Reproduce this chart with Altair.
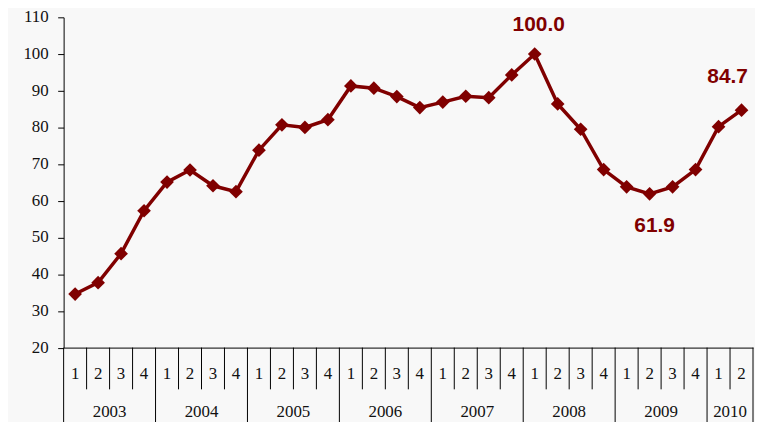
import altair as alt
import pandas as pd

# data (quarterly index, 2008Q1 = 100)
years = ["2003", "2004", "2005", "2006", "2007", "2008", "2009", "2010"]
quarters_per_year = [4, 4, 4, 4, 4, 4, 4, 2]
values = [34.6, 37.7, 45.6, 57.3, 65.1, 68.4, 64.1, 62.5,
          73.8, 80.7, 80.0, 82.1, 91.3, 90.7, 88.4, 85.4,
          86.9, 88.5, 88.1, 94.3, 100.0, 86.4, 79.5, 68.5,
          63.8, 61.9, 63.8, 68.5, 80.2, 84.7]
label_idx = [20, 25, 29]
label_text = ["100.0", "61.9", "84.7"]
y_ticks = [20, 30, 40, 50, 60, 70, 80, 90, 100, 110]

RED = "#800000"
SERIF = "Liberation Serif"
W, H = 694, 332.5

q_labels = []
for n in quarters_per_year:
    q_labels += [str(k + 1) for k in range(n)]
n_pts = len(values)

df = pd.DataFrame({"i": [k + 0.5 for k in range(n_pts)], "v": values, "q": q_labels})

year_bounds = [0]
for n in quarters_per_year:
    year_bounds.append(year_bounds[-1] + n)
q_bounds = [b for b in range(1, n_pts) if b not in year_bounds]
year_centers = [(year_bounds[k] + year_bounds[k + 1]) / 2 for k in range(len(years))]

df_qb = pd.DataFrame({"i": q_bounds})
df_yb = pd.DataFrame({"i": year_bounds})
df_years = pd.DataFrame({"i": year_centers, "y": years})
df_yt = pd.DataFrame({"v": y_ticks, "s": [str(t) for t in y_ticks]})
df_lab = pd.DataFrame({"i": [label_idx[k] + 0.5 for k in range(3)],
                       "v": [values[j] for j in label_idx],
                       "t": label_text})

xs = alt.Scale(domain=[0, n_pts], nice=False, zero=False)
ys = alt.Scale(domain=[20, 110], nice=False, zero=False)

X = alt.X("i:Q", scale=xs, title=None,
          axis=alt.Axis(labels=False, ticks=False, grid=False, title=None,
                        domainColor="#000", domainWidth=1))
Y = alt.Y("v:Q", scale=ys, title=None,
          axis=alt.Axis(values=y_ticks, grid=False, title=None, labels=False,
                        tickSize=6, tickColor="#000", domainColor="#000"))

base = alt.Chart(df)

line = base.mark_line(color=RED, strokeWidth=3.5).encode(x=X, y=Y)
pts = base.mark_point(shape="diamond", filled=True, size=190, color=RED, opacity=1).encode(
    x=X, y=Y)

qrules = alt.Chart(df_qb).mark_rule(color="#000", strokeWidth=1).encode(
    x=X, y=alt.value(H), y2=alt.value(H + 42))
yrules = alt.Chart(df_yb).mark_rule(color="#000", strokeWidth=1).encode(
    x=X, y=alt.value(H), y2=alt.value(H + 95))

ytick_text = alt.Chart(df_yt).mark_text(font=SERIF, fontSize=17, color="#111",
                                        align="right", baseline="middle").encode(
    x=alt.value(-15), y=Y, text="s:N")
qtext = base.mark_text(font=SERIF, fontSize=17, color="#111",
                       baseline="middle").encode(
    x=X, y=alt.value(H + 27), text="q:N")
ytext = alt.Chart(df_years).mark_text(font=SERIF, fontSize=17, color="#111",
                                      baseline="middle").encode(
    x=X, y=alt.value(H + 65), text="y:N")

offsets = [(4, -29), (5, 32), (-14, -33)]
lab_layers = []
for k in range(3):
    lab_layers.append(
        alt.Chart(df_lab.iloc[[k]]).mark_text(
            font="Liberation Sans", fontWeight="bold", fontSize=21, color=RED,
            baseline="middle", dx=offsets[k][0], dy=offsets[k][1]).encode(
            x=X, y=Y, text="t:N"))

chart = alt.layer(line, qrules, yrules, pts, ytick_text, qtext, ytext, *lab_layers).properties(
    width=W, height=H,
    padding={"left": 56, "top": 8, "right": 2, "bottom": 73},
    autosize=alt.AutoSizeParams(type="none"),
    background="#f8f8f8",
).configure_view(stroke=None)

chart.save("out.html", embed_options={"renderer": "svg", "actions": False})
